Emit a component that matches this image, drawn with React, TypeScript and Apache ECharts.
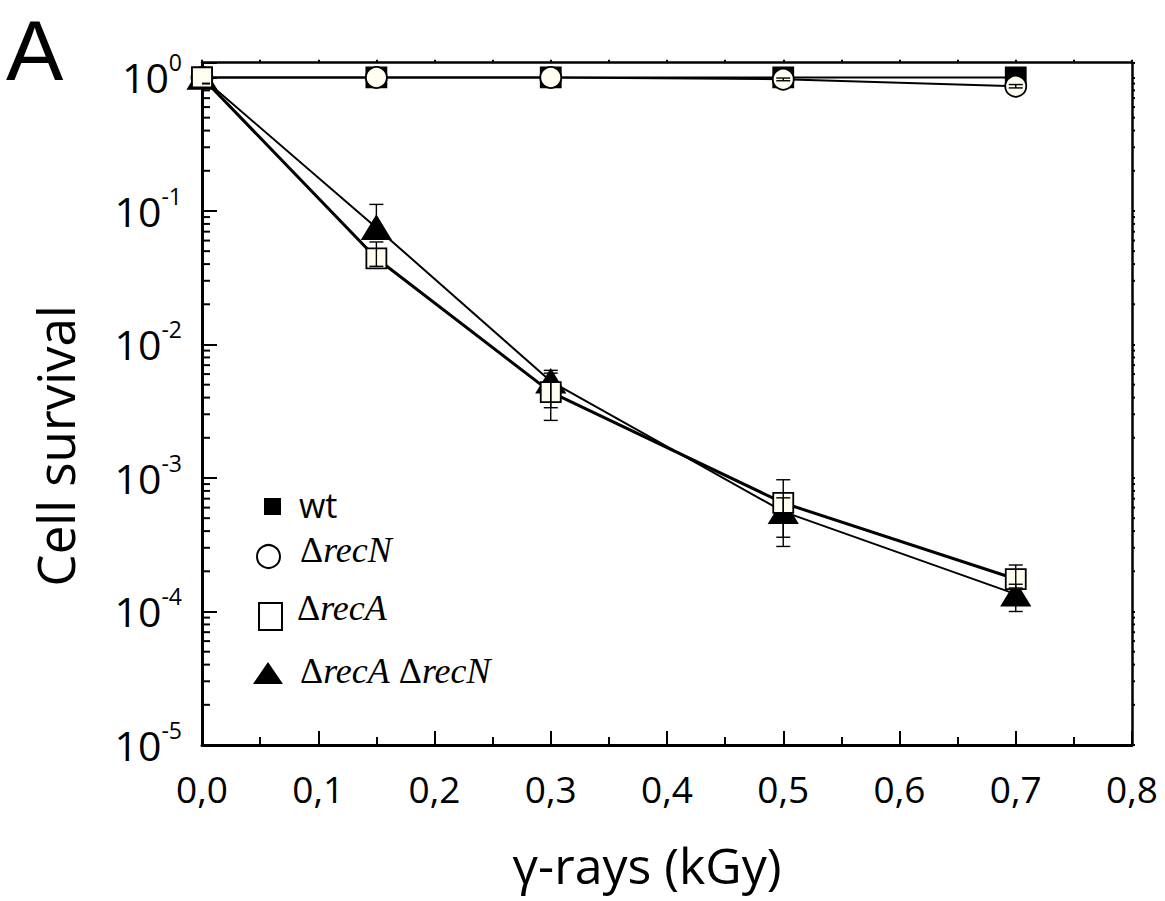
import React, { useEffect, useRef } from 'react';
import * as echarts from 'echarts';

// ---- data ----
const doses = [0, 0.15, 0.3, 0.5, 0.7];
const wt = [1.0, 1.0, 1.0, 1.0, 1.0];
const recN = [1.0, 1.0, 1.0, 0.97, 0.86];
const recA = [1.0, 0.0442, 0.0044, 0.00065, 0.000175];
const recArecN = [1.0, 0.075, 0.0053, 0.00056, 0.000135];

const recNLow = [null, null, null, 0.945, 0.835];
const recNHigh = [null, null, null, 0.99, 0.885];
const recALow = [null, 0.0385, 0.0027, 0.000307, 0.00015];
const recAHigh = [null, 0.0586, 0.0064, 0.00097, 0.000223];
const recArecNLow = [null, 0.062, 0.00336, 0.00036, 0.0001];
const recArecNHigh = [null, 0.112, 0.0061, 0.00071, 0.00016];

const minorDecades = [1e-5, 1e-4, 1e-3, 1e-2, 1e-1];
const minorMultipliers = [2, 3, 4, 5, 6, 7, 8, 9];

const xMin = 0;
const xMax = 0.8;
const yMin = 1e-5;
const yMax = 1.29;

const FILL = '#FFFEF0';
const SANS = '"Open Sans", "Noto Sans", sans-serif';
const SERIF = '"Liberation Serif", "DejaVu Serif", serif';

function errData(low: (number | null)[], high: (number | null)[]) {
  const out: number[][] = [];
  doses.forEach((d, i) => {
    const lo = low[i];
    const hi = high[i];
    if (lo != null && hi != null) out.push([d, lo, hi]);
  });
  return out;
}

const errRender = (params: any, api: any) => {
  const x = api.value(0);
  const lo = api.value(1);
  const hi = api.value(2);
  const pLo = api.coord([x, lo]);
  const pHi = api.coord([x, hi]);
  const w = 7;
  const st = { stroke: '#000', lineWidth: 1.4 };
  return {
    type: 'group',
    children: [
      { type: 'line', shape: { x1: pLo[0], y1: pLo[1], x2: pHi[0], y2: pHi[1] }, style: st },
      { type: 'line', shape: { x1: pLo[0] - w, y1: pLo[1], x2: pLo[0] + w, y2: pLo[1] }, style: st },
      { type: 'line', shape: { x1: pHi[0] - w, y1: pHi[1], x2: pHi[0] + w, y2: pHi[1] }, style: st },
    ],
  };
};

const minorRender = (params: any, api: any) => {
  const v = api.value(1);
  const pl = api.coord([xMin, v]);
  const pr = api.coord([xMax, v]);
  const st = { stroke: '#000', lineWidth: 2 };
  return {
    type: 'group',
    children: [
      { type: 'line', shape: { x1: pl[0], y1: pl[1], x2: pl[0] + 8, y2: pl[1] }, style: st },
      { type: 'line', shape: { x1: pr[0], y1: pr[1], x2: pr[0] + 3, y2: pr[1] }, style: st },
    ],
  };
};

export default function App() {
  const ref = useRef<HTMLDivElement>(null);

  useEffect(() => {
    document.body.style.margin = '0';
    if (!ref.current) return;
    const chart = echarts.init(ref.current, undefined, { renderer: 'svg' });

    const minorData: number[][] = [];
    minorDecades.forEach((d) => minorMultipliers.forEach((m) => minorData.push([0, m * d])));

    const lineSeries = (name: string, values: number[], symbol: string, size: any, fill: string, width: number) => ({
      name,
      type: 'line',
      data: doses.map((d, i) => [d, values[i]]),
      symbol,
      symbolSize: size,
      showAllSymbol: true,
      clip: false,
      lineStyle: { color: '#000', width },
      itemStyle: { color: fill, borderColor: '#000', borderWidth: 1.8 },
      emphasis: { disabled: true },
      z: 3,
    });

    const errSeries = (low: (number | null)[], high: (number | null)[]) => ({
      type: 'custom',
      renderItem: errRender,
      data: errData(low, high),
      encode: { x: 0, y: [1, 2] },
      z: 5,
      silent: true,
    });

    const rich = {
      d: { fontFamily: SERIF, fontSize: 36, fill: '#000' },
      i: { fontFamily: SERIF, fontSize: 36, fontStyle: 'italic', fill: '#000' },
    };

    const option: any = {
      animation: false,
      backgroundColor: '#fff',
      grid: { left: 202, right: 33, top: 62.7, bottom: 156, containLabel: false },
      xAxis: [
        {
          type: 'value',
          min: xMin,
          max: xMax,
          interval: 0.1,
          position: 'bottom',
          name: 'γ-rays (kGy)',
          nameLocation: 'middle',
          nameGap: 95,
          nameTextStyle: { fontFamily: SANS, fontSize: 50, color: '#000', padding: [0, 40, 0, 0] },
          axisLine: { show: true, onZero: false, lineStyle: { color: '#000', width: 3 } },
          axisTick: { show: true, inside: true, length: 14, lineStyle: { color: '#000', width: 2 } },
          minorTick: { show: true, splitNumber: 2, length: 8, lineStyle: { color: '#000', width: 2 } },
          splitLine: { show: false },
          axisLabel: {
            margin: 25,
            fontFamily: SANS,
            fontSize: 37,
            color: '#000',
            formatter: (v: number) => v.toFixed(1).replace('.', ','),
          },
        },
        {
          type: 'value',
          min: xMin,
          max: xMax,
          interval: 0.1,
          position: 'top',
          axisLine: { show: true, onZero: false, lineStyle: { color: '#000', width: 2.5 } },
          axisTick: { show: true, inside: false, length: 3, lineStyle: { color: '#000', width: 2 } },
          minorTick: { show: true, splitNumber: 2, length: 3, lineStyle: { color: '#000', width: 2 } },
          splitLine: { show: false },
          axisLabel: { show: false },
        },
      ],
      yAxis: [
        {
          type: 'log',
          logBase: 10,
          min: yMin,
          max: yMax,
          position: 'left',
          name: 'Cell survival',
          nameLocation: 'middle',
          nameRotate: 90,
          nameGap: 122,
          nameTextStyle: { fontFamily: SANS, fontSize: 51, color: '#000', padding: [0, 84, 0, 0] },
          axisLine: { show: true, onZero: false, lineStyle: { color: '#000', width: 3 } },
          axisTick: { show: true, inside: true, length: 15, lineStyle: { color: '#000', width: 2 } },
          splitLine: { show: false },
          axisLabel: {
            margin: 20,
            color: '#000',
            formatter: (v: number) => {
              const l = Math.log10(v);
              const e = Math.round(l);
              if (Math.abs(l - e) > 1e-6) return '';
              return `{b|10}{s|${e}}`;
            },
            rich: {
              b: { fontFamily: SANS, fontSize: 41, lineHeight: 52, color: '#000' },
              s: { fontFamily: SANS, fontSize: 23, lineHeight: 22, padding: [0, 0, 30, 0], color: '#000' },
            },
          },
        },
        {
          type: 'log',
          logBase: 10,
          min: yMin,
          max: yMax,
          position: 'right',
          axisLine: { show: true, onZero: false, lineStyle: { color: '#000', width: 2.5 } },
          axisTick: { show: true, inside: false, length: 3, lineStyle: { color: '#000', width: 2 } },
          splitLine: { show: false },
          axisLabel: { show: false },
        },
      ],
      series: [
        {
          type: 'custom',
          renderItem: minorRender,
          data: minorData,
          encode: { x: 0, y: 1 },
          silent: true,
          z: 6,
        },
        lineSeries('wt', wt, 'rect', 20, '#000', 2),
        lineSeries('ΔrecN', recN, 'circle', 21, FILL, 2),
        lineSeries('ΔrecA ΔrecN', recArecN, 'triangle', [28, 23], '#000', 2),
        lineSeries('ΔrecA', recA, 'rect', 20, FILL, 3),
        errSeries(recNLow, recNHigh),
        errSeries(recArecNLow, recArecNHigh),
        errSeries(recALow, recAHigh),
      ],
      graphic: [
        {
          type: 'text',
          x: 6,
          y: 50,
          style: {
            text: 'A',
            fontFamily: '"Liberation Sans", Arial, sans-serif',
            fontSize: 86,
            lineHeight: 70,
            fill: '#000',
            verticalAlign: 'middle',
          },
        },
        // legend
        { type: 'rect', shape: { x: 264, y: 498, width: 17, height: 17 }, style: { fill: '#000' } },
        {
          type: 'text',
          x: 299,
          y: 505,
          style: { text: 'wt', fontFamily: SANS, fontSize: 34, fill: '#000', verticalAlign: 'middle' },
        },
        { type: 'circle', shape: { cx: 268.5, cy: 556.5, r: 11.5 }, style: { fill: '#fff', stroke: '#000', lineWidth: 2 } },
        {
          type: 'text',
          x: 300,
          y: 550,
          style: { text: '{d|Δ}{i|recN}', verticalAlign: 'middle', rich },
        },
        { type: 'rect', shape: { x: 259, y: 603, width: 23, height: 27 }, style: { fill: '#fff', stroke: '#000', lineWidth: 2 } },
        {
          type: 'text',
          x: 297,
          y: 608,
          style: { text: '{d|Δ}{i|recA}', verticalAlign: 'middle', rich },
        },
        {
          type: 'polygon',
          shape: { points: [[253, 684], [283, 684], [268, 662]] },
          style: { fill: '#000' },
        },
        {
          type: 'text',
          x: 300,
          y: 671,
          style: { text: '{d|Δ}{i|recA }{d|Δ}{i|recN}', verticalAlign: 'middle', rich },
        },
      ],
    };

    chart.setOption(option);
    return () => chart.dispose();
  }, []);

  return <div ref={ref} style={{ position: 'fixed', left: 0, top: 0, width: 1165, height: 901 }} />;
}
